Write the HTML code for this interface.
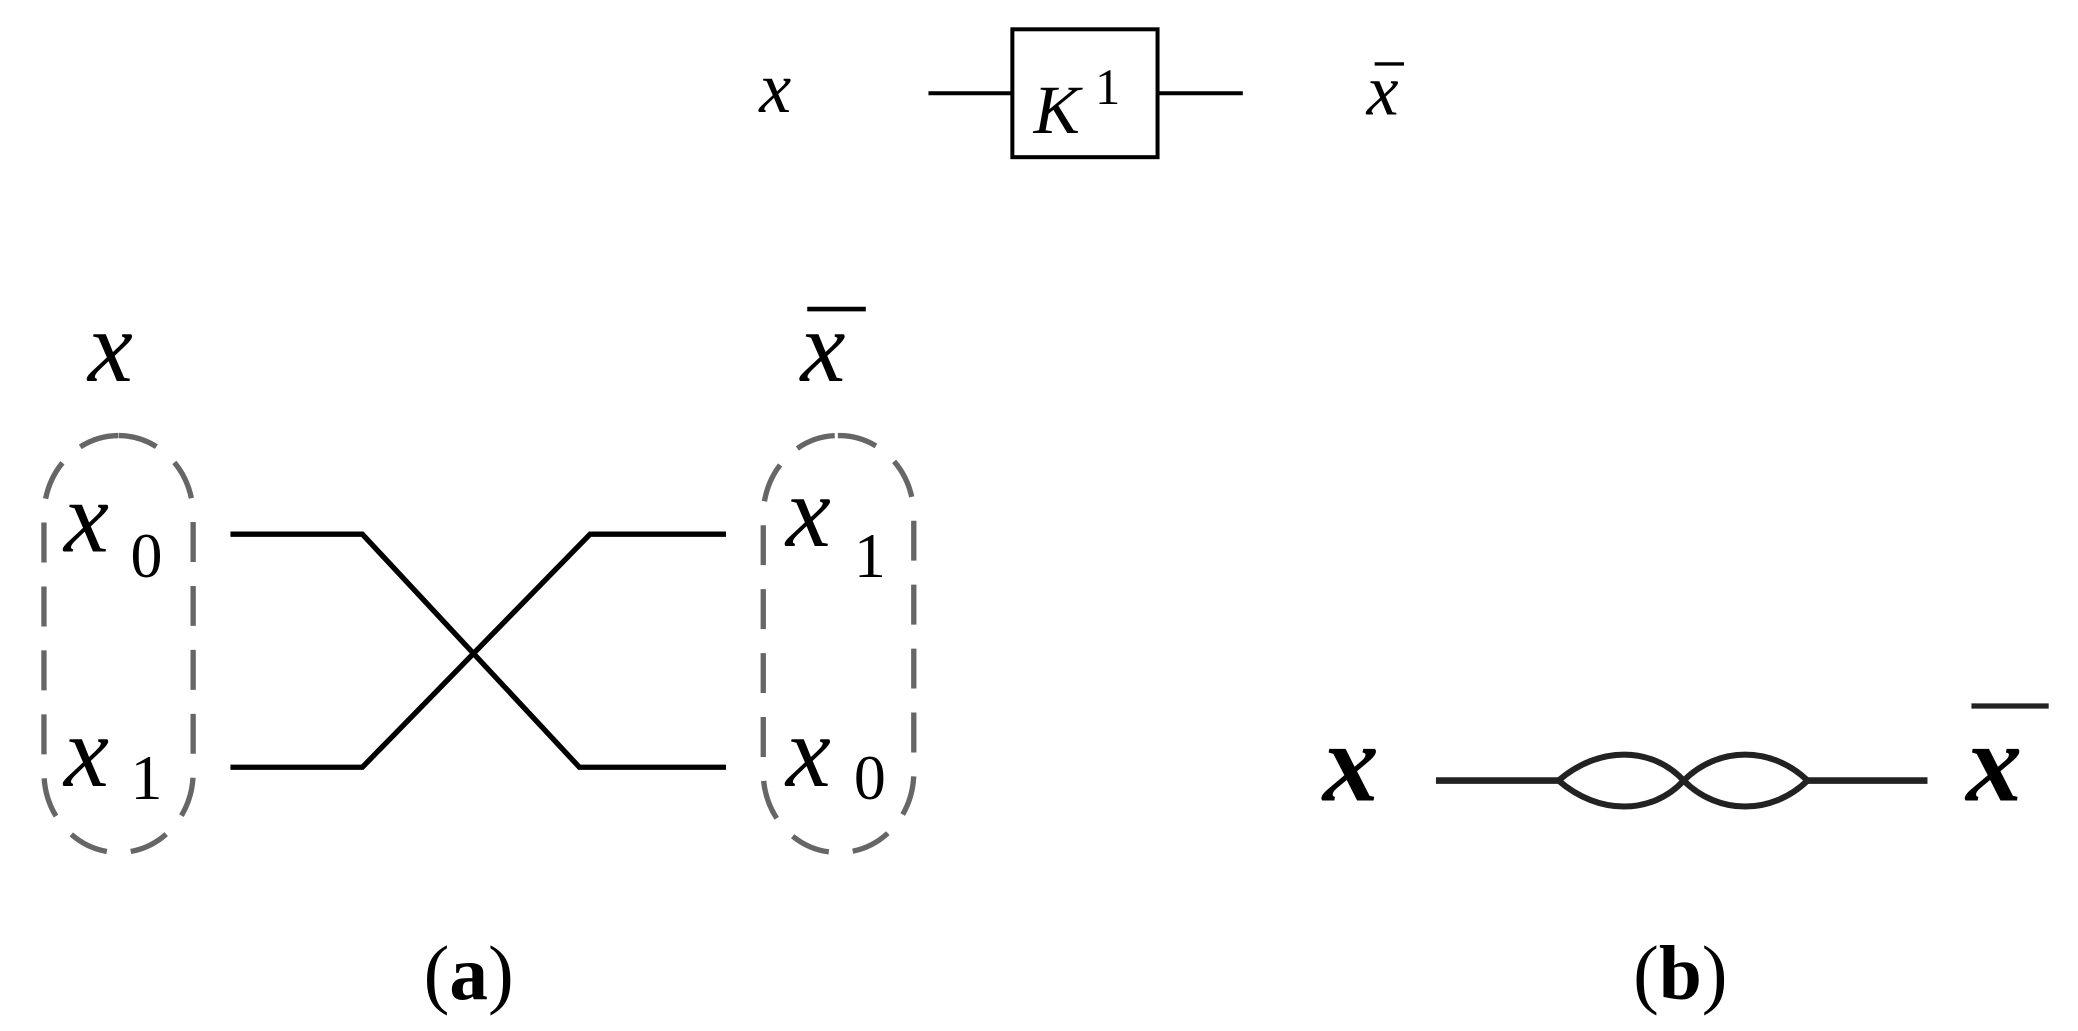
<!DOCTYPE html>
<html><head><style>
html,body{margin:0;padding:0;background:#fff;}
svg{display:block;}
text{font-family:"Liberation Serif",serif;}
</style></head><body>
<svg width="2078" height="1031" viewBox="0 0 1560 774" preserveAspectRatio="none" xmlns="http://www.w3.org/2000/svg">
<rect width="1560" height="774" fill="#fff"/>
<!-- top -->
<text x="570" y="84" font-size="54" font-style="italic">x</text>
<line x1="697" y1="70" x2="760" y2="70" stroke="#000" stroke-width="3"/>
<rect x="760" y="22" width="109" height="96" fill="none" stroke="#000" stroke-width="3"/>
<text x="776" y="100" font-size="52" font-style="italic">K</text>
<text x="822" y="78" font-size="38">1</text>
<line x1="869" y1="70" x2="933" y2="70" stroke="#000" stroke-width="3"/>
<text x="1026" y="86" font-size="54" font-style="italic">x</text>
<line x1="1032" y1="48" x2="1054" y2="48" stroke="#000" stroke-width="2.5"/>
<!-- (a) -->
<text x="66" y="286" font-size="76" font-style="italic">x</text>
<text x="601" y="286" font-size="76" font-style="italic">x</text>
<line x1="606" y1="232" x2="650" y2="232" stroke="#000" stroke-width="3.5"/>
<rect x="33" y="327" width="112" height="313" rx="56" ry="60" fill="none" stroke="#666" stroke-width="4" stroke-dasharray="30,18"/>
<rect x="573" y="327" width="113" height="313" rx="56" ry="60" fill="none" stroke="#666" stroke-width="4" stroke-dasharray="30,18"/>
<text x="48" y="414" font-size="76" font-style="italic">x</text>
<text x="98" y="433" font-size="48">0</text>
<text x="48" y="590" font-size="76" font-style="italic">x</text>
<text x="98" y="600" font-size="48">1</text>
<text x="590" y="410" font-size="76" font-style="italic">x</text>
<text x="641" y="433" font-size="48">1</text>
<text x="590" y="590" font-size="76" font-style="italic">x</text>
<text x="641" y="600" font-size="48">0</text>
<polyline points="173,401 272,401 435,576 545,576" fill="none" stroke="#000" stroke-width="4"/>
<polyline points="173,576 272,576 443,401 545,401" fill="none" stroke="#000" stroke-width="4"/>
<!-- (b) -->
<text x="993" y="601" font-size="84" font-style="italic" font-weight="bold">x</text>
<line x1="1078" y1="586" x2="1170" y2="586" stroke="#222" stroke-width="5"/>
<path d="M1170,586 C1200,560 1240,560 1264,586 C1290,560 1330,560 1357,586 M1170,586 C1200,612 1240,612 1264,586 C1290,612 1330,612 1357,586" fill="none" stroke="#222" stroke-width="4.5"/>
<line x1="1357" y1="586" x2="1447" y2="586" stroke="#222" stroke-width="5"/>
<text x="1476" y="601" font-size="84" font-style="italic" font-weight="bold">x</text>
<line x1="1480" y1="530" x2="1538" y2="530" stroke="#222" stroke-width="4"/>
<text x="318" y="750" font-size="58">(<tspan font-weight="bold">a</tspan>)</text>
<text x="1226" y="750" font-size="58">(<tspan font-weight="bold">b</tspan>)</text>
</svg>
</body></html>
